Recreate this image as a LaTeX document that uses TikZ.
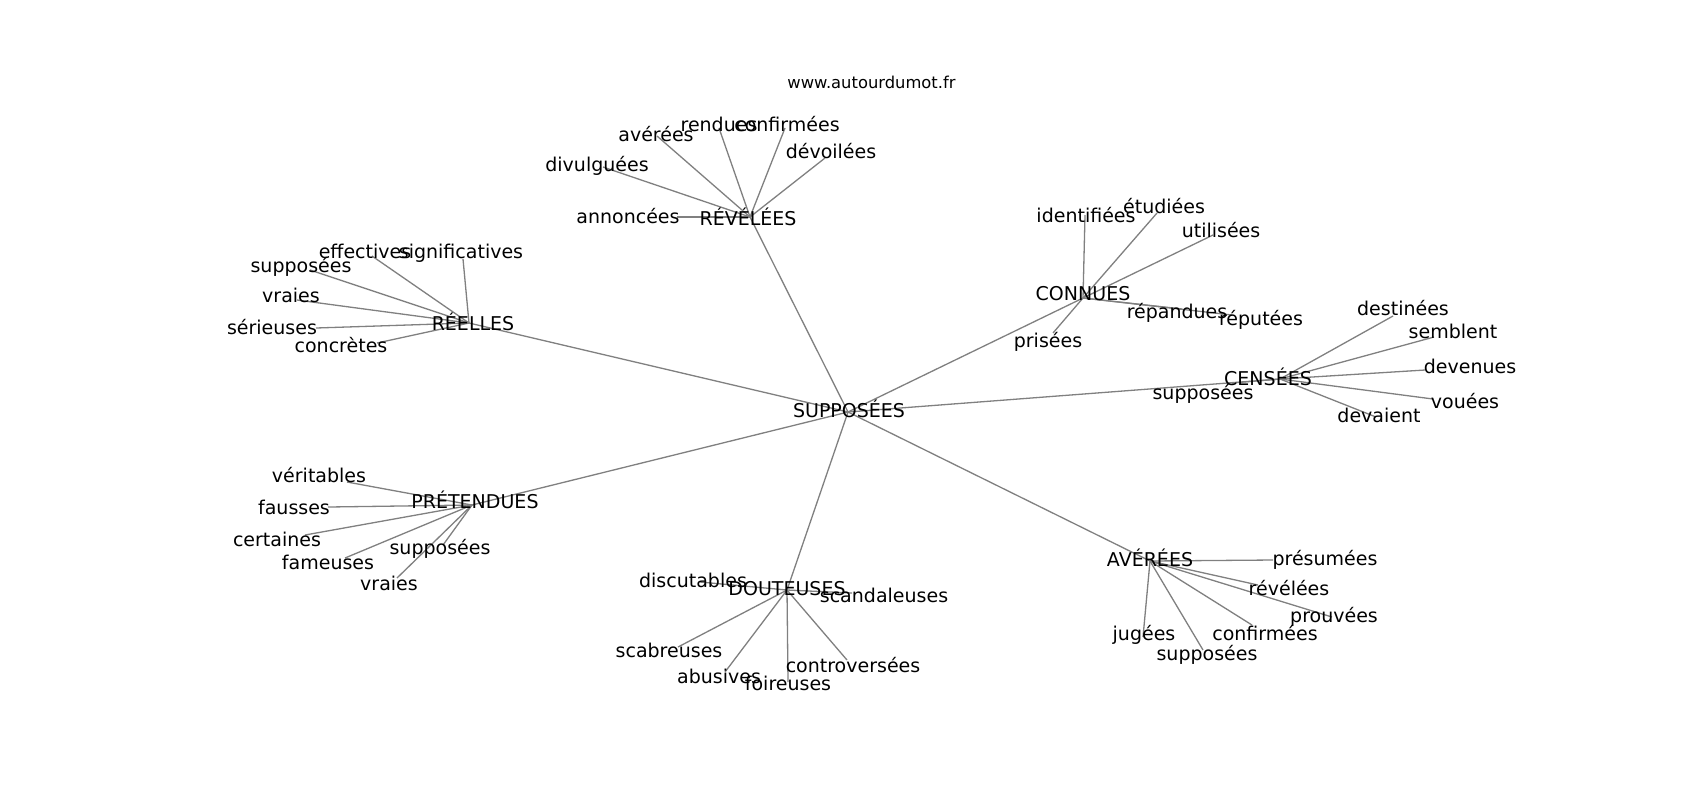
\documentclass[tikz,border=0pt]{standalone}
\usepackage{fontspec}
\setmainfont{DejaVu Sans}
\begin{document}
\begin{tikzpicture}[x=0.5pt,y=-0.5pt,
  lbl/.style={anchor=base,inner sep=0pt,text=black,font=\fontsize{9.5pt}{11pt}\selectfont},
  web/.style={anchor=base west,inner sep=0pt,text=black,font=\fontsize{8.17pt}{10pt}\selectfont},
  edge/.style={draw=gray,line width=0.65pt}]
\fill[white] (0,0) rectangle (1700,800);
\useasboundingbox (0,0) rectangle (1700,800);
% graph points
\coordinate (S) at (848,412);
\coordinate (RV) at (750,217);
\coordinate (a1) at (677,217);
\coordinate (a2) at (603,167);
\coordinate (a3) at (657,136);
\coordinate (a4) at (719,128);
\coordinate (a5) at (785,128);
\coordinate (a6) at (825,158);
\coordinate (RL) at (469,323);
\coordinate (b1) at (372,256);
\coordinate (b2) at (463,259);
\coordinate (b3) at (310,270);
\coordinate (b4) at (297,300);
\coordinate (b5) at (316,328);
\coordinate (b6) at (377,343);
\coordinate (CN) at (1083,298);
\coordinate (c1) at (1085,215);
\coordinate (c2) at (1157,213);
\coordinate (c3) at (1213,235);
\coordinate (c4) at (1182,309);
\coordinate (c5) at (1232,315);
\coordinate (c6) at (1053,333);
\coordinate (CS) at (1280,379);
\coordinate (d1) at (1393,316);
\coordinate (d2) at (1434,337);
\coordinate (d3) at (1425,370);
\coordinate (d4) at (1433,399);
\coordinate (d5) at (1376,417);
\coordinate (d6) at (1232,383);
\coordinate (PR) at (472,505);
\coordinate (e1) at (347,482);
\coordinate (e2) at (328,507);
\coordinate (e3) at (305,535);
\coordinate (e4) at (345,558);
\coordinate (e5) at (443,545);
\coordinate (e6) at (397,578);
\coordinate (DT) at (787,590);
\coordinate (f1) at (700,582);
\coordinate (f2) at (852,593);
\coordinate (f3) at (678,647);
\coordinate (f4) at (725,672);
\coordinate (f5) at (788,682);
\coordinate (f6) at (847,660);
\coordinate (AV) at (1150,561);
\coordinate (g1) at (1273,560);
\coordinate (g2) at (1258,585);
\coordinate (g3) at (1332,617);
\coordinate (g4) at (1252,625);
\coordinate (g5) at (1143,637);
\coordinate (g6) at (1203,650);
% edges
\foreach \h in {RV,RL,CN,CS,PR,DT,AV} \draw[edge] (S) -- (\h);
\foreach \l in {a1,a2,a3,a4,a5,a6} \draw[edge] (RV) -- (\l);
\foreach \l in {b1,b2,b3,b4,b5,b6} \draw[edge] (RL) -- (\l);
\foreach \l in {c1,c2,c3,c4,c5,c6} \draw[edge] (CN) -- (\l);
\foreach \l in {d1,d2,d3,d4,d5,d6} \draw[edge] (CS) -- (\l);
\foreach \l in {e1,e2,e3,e4,e5,e6} \draw[edge] (PR) -- (\l);
\foreach \l in {f1,f2,f3,f4,f5,f6} \draw[edge] (DT) -- (\l);
\foreach \l in {g1,g2,g3,g4,g5,g6} \draw[edge] (AV) -- (\l);
% labels
\node[web] (www) at (787,88) {www.autourdumot.fr};
\node[lbl] (tS) at (849,417) {SUPPOSÉES};
\node[lbl] (tRV) at (748,225) {RÉVÉLÉES};
\node[lbl] (ta1) at (628,223) {annoncées};
\node[lbl] (ta2) at (597,171) {divulguées};
\node[lbl] (ta3) at (656,141) {avérées};
\node[lbl] (ta4) at (719,131) {rendues};
\node[lbl] (ta5) at (787,131) {confirmées};
\node[lbl] (ta6) at (831,158) {dévoilées};
\node[lbl] (tRL) at (473,330) {RÉELLES};
\node[lbl] (tb1) at (365,258) {effectives};
\node[lbl] (tb2) at (461,258) {significatives};
\node[lbl] (tb3) at (301,272) {supposées};
\node[lbl] (tb4) at (291,302) {vraies};
\node[lbl] (tb5) at (272,334) {sérieuses};
\node[lbl] (tb6) at (341,352) {concrètes};
\node[lbl] (tCN) at (1083,300.5) {CONNUES};
\node[lbl] (tc1) at (1086,222) {identifiées};
\node[lbl] (tc2) at (1164,213) {étudiées};
\node[lbl] (tc3) at (1221,237) {utilisées};
\node[lbl] (tc4) at (1177,318) {répandues};
\node[lbl] (tc5) at (1261,325) {réputées};
\node[lbl] (tc6) at (1048,347) {prisées};
\node[lbl] (tCS) at (1268,385) {CENSÉES};
\node[lbl] (td1) at (1403,315) {destinées};
\node[lbl] (td2) at (1453,338) {semblent};
\node[lbl] (td3) at (1470,373) {devenues};
\node[lbl] (td4) at (1465,408) {vouées};
\node[lbl] (td5) at (1379,422) {devaient};
\node[lbl] (td6) at (1203,399) {supposées};
\node[lbl] (tPR) at (475,508) {PRÉTENDUES};
\node[lbl] (te1) at (319,482) {véritables};
\node[lbl] (te2) at (294,514) {fausses};
\node[lbl] (te3) at (277,546) {certaines};
\node[lbl] (te4) at (328,569) {fameuses};
\node[lbl] (te5) at (440,554) {supposées};
\node[lbl] (te6) at (389,590) {vraies};
\node[lbl] (tDT) at (787,595) {DOUTEUSES};
\node[lbl] (tf1) at (693,587) {discutables};
\node[lbl] (tf2) at (884,602) {scandaleuses};
\node[lbl] (tf3) at (669,657) {scabreuses};
\node[lbl] (tf4) at (719,683) {abusives};
\node[lbl] (tf5) at (788,690) {foireuses};
\node[lbl] (tf6) at (853,672) {controversées};
\node[lbl] (tAV) at (1150,566) {AVÉRÉES};
\node[lbl] (tg1) at (1325,565) {présumées};
\node[lbl] (tg2) at (1289,595) {révélées};
\node[lbl] (tg3) at (1334,622) {prouvées};
\node[lbl] (tg4) at (1265,640) {confirmées};
\node[lbl] (tg5) at (1144,640) {jugées};
\node[lbl] (tg6) at (1207,660) {supposées};
\end{tikzpicture}
\end{document}
